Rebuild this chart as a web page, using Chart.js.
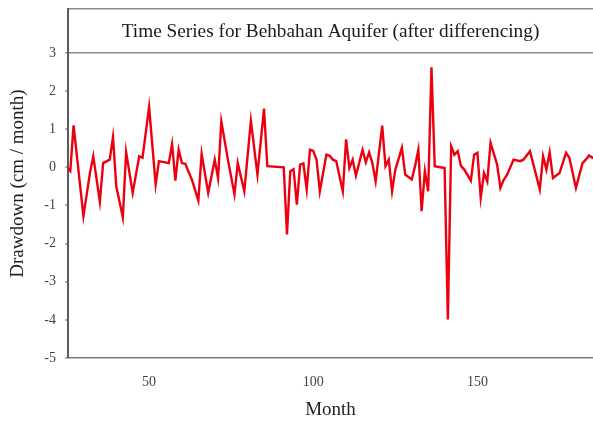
<!DOCTYPE html>
<html>
<head>
<meta charset="utf-8">
<script src="https://cdn.jsdelivr.net/npm/chart.js@4"></script>
<style>
html,body{margin:0;padding:0;background:#fff;}
#wrap{width:593px;height:421px;position:relative;}
</style>
</head>
<body>
<div id="wrap"><canvas id="c" width="593" height="421"></canvas></div>
<script>
// ---- data ----
const chartTitle = "Time Series for Behbahan Aquifer (after differencing)";
const xAxisTitle = "Month";
const yAxisTitle = "Drawdown (cm / month)";
const months = [25,26,27,30,32,33,35,36,38,39,40,42,43,45,47,48,50,52,53,56,57,58,59,60,61,63,65,66,68,70,71,72,74,76,77,79,81,83,85,86,91,92,93,94,95,96,97,98,99,100,101,102,104,105,106,107,109,110,111,112,113,115,116,117,118,119,121,122,123,124,125,127,128,130,131,132,133,134,135,136,137,140,141,142,143,144,145,146,148,149,150,151,152,153,154,156,157,158,159,161,163,164,166,169,170,171,172,173,175,177,178,180,182,183,184,185,186];
const drawdown = [0.0,-0.1,1.1,-1.28,-0.14,0.29,-0.9,0.11,0.2,0.79,-0.5,-1.31,0.40,-0.67,0.29,0.25,1.58,-0.45,0.16,0.11,0.61,-0.35,0.46,0.11,0.09,-0.32,-0.87,0.35,-0.67,0.2,-0.28,1.2,0.2,-0.71,0.11,-0.63,1.22,-0.19,1.54,0.03,0.0,-1.76,-0.1,-0.05,-0.98,0.07,0.1,-0.58,0.46,0.43,0.2,-0.63,0.33,0.3,0.2,0.16,-0.63,0.73,-0.02,0.2,-0.22,0.46,0.13,0.39,0.11,-0.37,1.09,0.03,0.2,-0.63,-0.06,0.51,-0.19,-0.32,0.03,0.46,-1.15,-0.1,-0.63,2.62,0.03,-0.02,-3.99,0.55,0.33,0.42,0.03,-0.06,-0.35,0.33,0.38,-0.8,-0.15,-0.37,0.64,0.07,-0.54,-0.33,-0.2,0.2,0.16,0.2,0.42,-0.58,0.29,-0.06,0.39,-0.28,-0.15,0.38,0.25,-0.54,0.11,0.2,0.31,0.25,0.3];
const xTickValues = [50,100,150];
const yTickValues = [-5,-4,-3,-2,-1,0,1,2,3];
const titleBoxValue = 3;
const xRange = [25.3, 185.2];
const yRange = [-5, 4.15];

const points = months.map((m,i)=>({x:m, y:drawdown[i]}));
const serif = "'Liberation Serif','Times New Roman',serif";

const titlePlugin = {
  id: 'insideTitle',
  afterDraw(chart){
    const {ctx, chartArea, scales} = chart;
    const yb = scales.y.getPixelForValue(titleBoxValue);
    ctx.save();
    ctx.font = "19.3px " + serif;
    ctx.fillStyle = '#1a1a1a';
    ctx.textAlign = 'center';
    ctx.textBaseline = 'middle';
    ctx.fillText(chartTitle, (chartArea.left+chartArea.right)/2, (chartArea.top+yb)/2 + 1);
    ctx.restore();
  }
};

new Chart(document.getElementById('c'), {
  type: 'line',
  data: { datasets: [{
    data: points,
    borderColor: 'rgb(236,0,16)',
    borderWidth: 2.4,
    pointRadius: 0,
    tension: 0,
    fill: false
  }]},
  options: {
    responsive: false,
    animation: false,
    devicePixelRatio: 1,
    layout: { padding: { top: 9, right: 0, left: 0, bottom: 0 } },
    plugins: { legend: {display:false}, tooltip: {enabled:false}, title: {display:false} },
    scales: {
      x: {
        type: 'linear', position: 'bottom',
        min: xRange[0], max: xRange[1],
        afterBuildTicks: s => { s.ticks = xTickValues.map(v=>({value:v})); },
        afterFit: s => { s.height = 63; s.paddingLeft = 0; s.paddingRight = 0; },
        ticks: { color:'#444', font:{family:serif, size:14}, padding:16, maxRotation:0 },
        grid: { display: true, drawOnChartArea:false, drawTicks:false },
        border: { display:true, color:'#7a7a7a', width:1.5 },
        title: { display:true, text:xAxisTitle, color:'#222', font:{family:serif, size:19}, padding:{top:0,bottom:0} }
      },
      x2: {
        type: 'linear', position: 'top',
        min: xRange[0], max: xRange[1],
        afterFit: s => { s.height = 0; s.paddingLeft = 0; s.paddingRight = 0; },
        ticks: { display:false },
        grid: { display:false },
        border: { display:true, color:'#8a8a8a', width:1.5 }
      },
      y: {
        type: 'linear', position: 'left',
        min: yRange[0], max: yRange[1],
        afterBuildTicks: s => { s.ticks = yTickValues.map(v=>({value:v})); },
        afterFit: s => { s.width = 68; s.paddingTop = 0; s.paddingBottom = 0; },
        ticks: { color:'#444', font:{family:serif, size:14}, padding:9 },
        grid: {
          drawOnChartArea:true, drawTicks:true, tickLength:3,
          color: c => (c.tick && c.tick.value === titleBoxValue) ? '#8a8a8a' : 'rgba(0,0,0,0)',
          lineWidth: c => (c.tick && c.tick.value === titleBoxValue) ? 1.5 : 0,
          tickColor:'#666', tickWidth:1
        },
        border: { display:true, color:'#5a5a5a', width:2 },
        title: { display:true, text:yAxisTitle, color:'#222', font:{family:serif, size:19}, padding:{top:7,bottom:0} }
      }
    }
  },
  plugins: [titlePlugin]
});
</script>
</body>
</html>
